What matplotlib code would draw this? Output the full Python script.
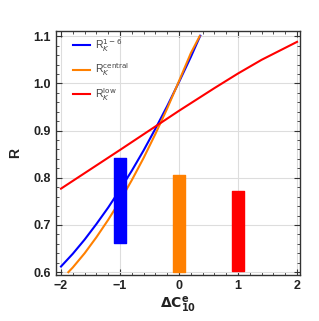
import numpy as np
import matplotlib
matplotlib.use("Agg")
import matplotlib.pyplot as plt
from matplotlib.ticker import MultipleLocator

plt.rcParams['font.family'] = ['Liberation Sans', 'DejaVu Sans']

# curves
x_blue = [-2.0, -1.8, -1.6, -1.4, -1.2, -1.0, -0.8, -0.6, -0.4, -0.2, 0.0, 0.2, 0.36]
y_blue = [0.612, 0.639, 0.669, 0.702, 0.737, 0.775, 0.815, 0.858, 0.904, 0.952, 1.003, 1.056, 1.101]

x_orange = [-1.876, -1.8, -1.6, -1.4, -1.2, -1.0, -0.8, -0.6, -0.4, -0.2, 0.0, 0.2, 0.35]
y_orange = [0.600, 0.610, 0.640, 0.674, 0.711, 0.751, 0.795, 0.842, 0.893, 0.947, 1.005, 1.064, 1.10]

x_red = [-2.0, -1.0, 0.0, 0.6, 1.0, 1.4, 2.0]
y_red = [0.777, 0.859, 0.942, 0.990, 1.021, 1.050, 1.088]

# measured ranges (bars)
bar_x = [-1, 0, 1]
bar_lo = [0.662, 0.601, 0.602]
bar_hi = [0.841, 0.806, 0.771]
bar_colors = ['#0000ff', '#ff8000', '#ff0000']

labels = [r'R$_K^{1-6}$', r'R$_K^{\rm central}$', r'R$_K^{\rm low}$']

fig = plt.figure(figsize=(3.19, 3.21), dpi=100)
ax = fig.add_axes([0.1755, 0.1433, 0.7649, 0.7601])

ax.plot(x_blue, y_blue, color='#0000ff', lw=1.5, label=labels[0])
ax.plot(x_orange, y_orange, color='#ff8000', lw=1.5, label=labels[1])
ax.plot(x_red, y_red, color='#ff0000', lw=1.5, label=labels[2])

for bx, lo, hi, c in zip(bar_x, bar_lo, bar_hi, bar_colors):
    ax.bar(bx, hi - lo, bottom=lo, width=0.2, color=c, edgecolor=c,
           linewidth=1, joinstyle='round', zorder=3)

ax.set_xlim(-2.085, 2.05)
ax.set_ylim(0.594, 1.111)
ax.set_xticks([-2, -1, 0, 1, 2])
ax.set_yticks([0.6, 0.7, 0.8, 0.9, 1.0, 1.1])
ax.set_yticklabels(['0.6', '0.7', '0.8', '0.9', '1.0', '1.1'])
ax.xaxis.set_minor_locator(MultipleLocator(0.2))
ax.yaxis.set_minor_locator(MultipleLocator(0.02))
ax.tick_params(which='both', direction='in', top=True, right=True,
               color='#333333', labelsize=9)
ax.tick_params(which='major', length=4, width=0.8)
ax.tick_params(which='minor', length=2, width=0.6)
for lab in ax.get_xticklabels() + ax.get_yticklabels():
    lab.set_fontweight('bold')
    lab.set_color('#222222')

ax.grid(True, which='major', color='#dddddd', lw=0.8, zorder=0)
ax.set_axisbelow(True)
for s in ax.spines.values():
    s.set_color('#333333')
    s.set_linewidth(1.0)

ax.set_xlabel(r'$\mathbf{\Delta C_{10}^{e}}$', fontsize=10, color='#222222', labelpad=2)
ax.set_ylabel('R', fontsize=10, fontweight='bold', color='#222222', labelpad=8)

leg = ax.legend(loc='upper left', bbox_to_anchor=(0.04, 1.005), frameon=False,
                fontsize=7.5, handlelength=1.6, labelspacing=0.75,
                handletextpad=0.5, borderaxespad=0.3)
for t in leg.get_texts():
    t.set_color('#444444')

fig.savefig('out.png', dpi=100)
